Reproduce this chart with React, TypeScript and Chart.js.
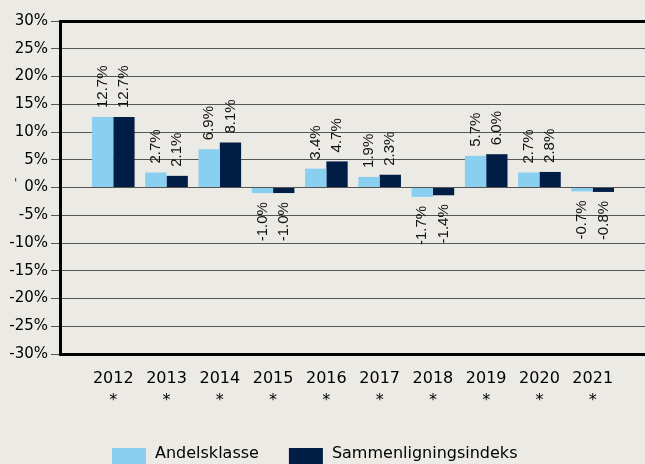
import React, { useEffect, useRef } from 'react';
import { Chart, registerables } from 'chart.js';

Chart.register(...registerables);

const years = ['2012', '2013', '2014', '2015', '2016', '2017', '2018', '2019', '2020', '2021'];
const yearFootnote = '*';
const fundReturns = [12.7, 2.7, 6.9, -1.0, 3.4, 1.9, -1.7, 5.7, 2.7, -0.7];
const indexReturns = [12.7, 2.1, 8.1, -1.0, 4.7, 2.3, -1.4, 6.0, 2.8, -0.8];
const seriesNames = ['Andelsklasse', 'Sammenligningsindeks'];
const seriesColors = ['#89CFF0', '#001D45'];
const yMin = -30;
const yMax = 30;
const yStep = 5;

const BG = '#ECEAE5';
const TICK_FONT = 'DejaVu Sans';
const LABEL_FONT = 'Liberation Sans';

const valueLabelPlugin = {
  id: 'valueLabels',
  afterDatasetsDraw(chart: any) {
    const ctx = chart.ctx;
    ctx.save();
    ctx.font = `15px "${LABEL_FONT}"`;
    ctx.fillStyle = '#111';
    ctx.textBaseline = 'middle';
    chart.data.datasets.forEach((ds: any, di: number) => {
      const meta = chart.getDatasetMeta(di);
      meta.data.forEach((el: any, i: number) => {
        const v = ds.data[i];
        if (v === null || v === undefined) return;
        const txt = v.toFixed(1) + '%';
        const gap = 9;
        ctx.save();
        if (v >= 0) {
          ctx.translate(el.x, el.y - gap);
          ctx.rotate(-Math.PI / 2);
          ctx.textAlign = 'left';
        } else {
          ctx.translate(el.x, el.y + gap);
          ctx.rotate(-Math.PI / 2);
          ctx.textAlign = 'right';
        }
        ctx.fillText(txt, 0, 0);
        ctx.restore();
      });
    });
    ctx.restore();
  },
};

const legendPlugin = {
  id: 'bottomLegend',
  afterDraw(chart: any) {
    const ctx = chart.ctx;
    const area = chart.chartArea;
    ctx.save();
    ctx.font = `16px "${TICK_FONT}"`;
    ctx.textBaseline = 'top';
    ctx.textAlign = 'left';
    let x = area.left + 52;
    const top = 448;
    chart.data.datasets.forEach((ds: any) => {
      ctx.fillStyle = ds.backgroundColor;
      ctx.fillRect(x, top, 34, 20);
      x += 34 + 9;
      ctx.fillStyle = '#000';
      ctx.fillText(ds.label, x, top - 2);
      x += ctx.measureText(ds.label).width + 30;
    });
    // small stray mark at the left edge
    ctx.font = `12px "${TICK_FONT}"`;
    ctx.fillStyle = '#333';
    ctx.fillText("'", 14, 178);
    ctx.restore();
  },
};

export default function App() {
  const ref = useRef<HTMLCanvasElement | null>(null);

  useEffect(() => {
    if (!ref.current) return;
    const labels: any[] = ['', ...years.map((y) => [y, yearFootnote]), ''];
    const chart = new Chart(ref.current, {
      type: 'bar',
      data: {
        labels,
        datasets: [
          {
            label: seriesNames[0],
            data: [null, ...fundReturns, null],
            backgroundColor: seriesColors[0],
            borderWidth: 0,
          },
          {
            label: seriesNames[1],
            data: [null, ...indexReturns, null],
            backgroundColor: seriesColors[1],
            borderWidth: 0,
          },
        ],
      },
      options: {
        responsive: false,
        animation: false,
        layout: { padding: { top: 21, right: 11, left: 0, bottom: 0 } },
        datasets: { bar: { categoryPercentage: 0.8, barPercentage: 1.0 } } as any,
        plugins: {
          legend: { display: false },
          tooltip: { enabled: false },
        },
        scales: {
          x: {
            offset: false,
            grid: { display: false, drawTicks: false },
            border: { display: true, color: '#000', width: 3 },
            ticks: {
              color: '#000',
              font: { family: TICK_FONT, size: 16, lineHeight: 1.35 },
              padding: 14,
              maxRotation: 0,
              autoSkip: false,
            },
            afterFit: (s: any) => {
              s.height = 110;
            },
          },
          y: {
            min: yMin,
            max: yMax,
            ticks: {
              stepSize: yStep,
              callback: (v: any) => v + '%',
              color: '#000',
              font: { family: TICK_FONT, size: 15 },
              padding: 3,
            },
            grid: {
              color: (c: any) => (c.tick && c.tick.value === yMax ? '#000' : '#555'),
              lineWidth: (c: any) => (c.tick && c.tick.value === yMax ? 3 : 1),
              tickLength: 9,
              tickColor: '#555',
              tickWidth: 1,
            },
            border: { color: '#000', width: 3 },
            afterFit: (s: any) => {
              s.width = 60;
            },
          },
        },
      },
      plugins: [valueLabelPlugin, legendPlugin],
    });
    return () => chart.destroy();
  }, []);

  return (
    <div
      style={{
        position: 'fixed',
        left: 0,
        top: 0,
        width: 645,
        height: 464,
        overflow: 'hidden',
        background: BG,
      }}
    >
      <canvas ref={ref} width={660} height={464} style={{ display: 'block' }} />
    </div>
  );
}
